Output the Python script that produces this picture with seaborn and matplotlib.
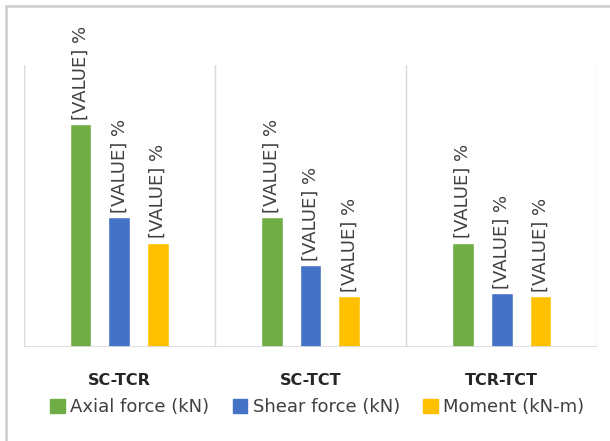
import numpy as np
import pandas as pd
import seaborn as sns
import matplotlib.pyplot as plt
from matplotlib.lines import Line2D

# chart values (share of axis height)
pairs = ['SC-TCR', 'SC-TCT', 'TCR-TCT']
series = ['Axial force (kN)', 'Shear force (kN)', 'Moment (kN-m)']
axial = [79, 46, 37]
shear = [46, 29, 19]
moment = [37, 18, 18]
palette = ['#70AD47', '#4472C4', '#FFC000']

df = pd.DataFrame({
    'pair': pairs * 3,
    'series': [s for s in series for _ in pairs],
    'value': axial + shear + moment,
})

sns.set_style('white')
fig = plt.figure(figsize=(6.1, 4.41), dpi=100)
ax = fig.add_axes([0.039, 0.213, 0.94, 0.64])

sns.barplot(data=df, x='pair', y='value', hue='series', hue_order=series,
            palette=palette, width=0.61, gap=0.44, saturation=1, ax=ax,
            legend=False)

# value labels above each bar
for cont in ax.containers:
    for bar in cont:
        x = bar.get_x() + bar.get_width() / 2
        ax.text(x, bar.get_height() + 1.5, '[VALUE] %', rotation=90,
                ha='center', va='bottom', fontsize=13, color='#404040',
                clip_on=False)

ax.set_xlim(-0.5, 2.5)
ax.set_ylim(0, 100)
for xv in [-0.5, 0.5, 1.5, 2.5]:
    ax.axvline(xv, color='#d9d9d9', lw=1)
ax.axhline(0, color='#d9d9d9', lw=1.2)
for s in ax.spines.values():
    s.set_visible(False)
ax.set_yticks([])
ax.set_xlabel('')
ax.set_ylabel('')
ax.tick_params(axis='x', length=0, pad=19)
ax.set_xticks(range(3))
ax.set_xticklabels(pairs, fontsize=11.5, fontweight='bold', color='#262626')

handles = [plt.Rectangle((0, 0), 1, 1, color=c) for c in palette]
fig.legend(handles, series, loc='center', bbox_to_anchor=(0.52, 0.077),
           ncol=3, frameon=False, fontsize=13, labelcolor='#404040',
           handlelength=0.8, handleheight=0.8, handletextpad=0.3,
           columnspacing=1.3)

# chart border (top and left visible)
fig.add_artist(Line2D([0.01, 1.0], [0.986, 0.986], color='#d0d0d0', lw=2,
                      transform=fig.transFigure))
fig.add_artist(Line2D([0.01, 0.01], [0.0, 0.986], color='#d0d0d0', lw=2,
                      transform=fig.transFigure))

fig.savefig('out.png', dpi=100)
